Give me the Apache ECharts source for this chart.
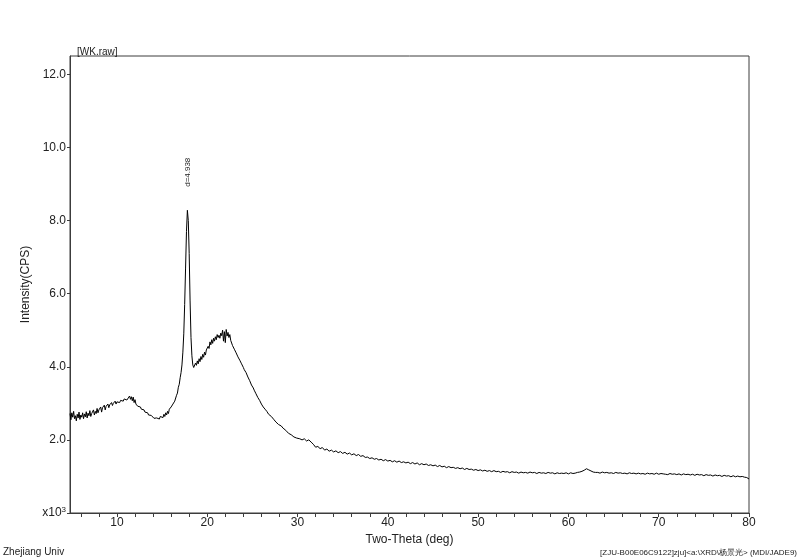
<!DOCTYPE html>
<html>
<head>
<meta charset="utf-8">
<title>WK.raw</title>
<script src="https://cdn.jsdelivr.net/npm/echarts@6/dist/echarts.min.js"></script>
<style>
  html, body { margin: 0; padding: 0; background: #fff; }
  #chart { width: 800px; height: 560px; }
</style>
</head>
<body>
<div id="chart"></div>
<script>
// intensity in x10^3 CPS; angles in deg 2-theta
// low-angle part: 4.8 .. 17.2, step 0.1
const lowStart = 4.8;
const lowStep = 0.1;
const lowCounts = [
  2.72, 2.55,
  2.74, 2.62, 2.78, 2.58, 2.66, 2.52, 2.70, 2.60, 2.76, 2.56,
  2.68, 2.62, 2.74, 2.58, 2.71, 2.63, 2.77, 2.60, 2.73, 2.66,
  2.80, 2.64, 2.72, 2.67, 2.82, 2.68, 2.78, 2.72, 2.86, 2.74,
  2.82, 2.78, 2.90, 2.76, 2.88, 2.83, 2.95, 2.82, 2.92, 2.87,
  2.98, 2.88, 2.96, 2.92, 3.02, 2.94, 3.00, 2.96, 3.06, 2.98,
  3.04, 3.01, 3.09, 3.02, 3.08, 3.05, 3.13, 3.06, 3.12, 3.08,
  3.16, 3.09, 3.14, 3.12, 3.20, 3.11, 3.18, 3.07, 3.17, 3.02,
  3.10, 2.98, 3.02, 2.92, 2.97, 2.88, 2.90, 2.84, 2.87, 2.79,
  2.82, 2.76, 2.79, 2.72, 2.74, 2.68, 2.72, 2.65, 2.67, 2.62,
  2.65, 2.59, 2.62, 2.56, 2.60, 2.55, 2.63, 2.57, 2.64, 2.59,
  2.69, 2.61, 2.70, 2.64, 2.74, 2.68, 2.78, 2.72, 2.84, 2.80,
  2.90, 2.86, 2.98, 2.95, 3.06, 3.08, 3.22, 3.28, 3.44, 3.52,
  3.70, 3.84, 4.05
];
// sharp reflection
const peakAngles = [17.3, 17.4, 17.5, 17.6, 17.7, 17.8, 17.85, 17.9, 18.0, 18.1, 18.2, 18.3, 18.4, 18.5];
const peakCounts = [4.40, 4.90, 5.70, 6.70, 7.70, 8.28, 8.32, 8.00, 7.10, 5.80, 4.80, 4.30, 4.05, 3.98];
// amorphous hump: 18.6 .. 30.0, step 0.1
const humpStart = 18.6;
const humpStep = 0.1;
const humpCounts = [
  4.00, 4.10, 4.04, 4.16,
  4.08, 4.22, 4.14, 4.28, 4.20, 4.34, 4.26, 4.40, 4.32, 4.46,
  4.42, 4.56, 4.50, 4.68, 4.60, 4.74, 4.64, 4.78, 4.70, 4.82,
  4.74, 4.88, 4.80, 4.86, 4.78, 4.92, 4.85, 5.00, 4.70, 4.96,
  4.66, 5.02, 4.84, 4.94, 4.80, 4.88, 4.72, 4.70, 4.58, 4.60,
  4.48, 4.46, 4.38, 4.36, 4.27, 4.26, 4.18, 4.16, 4.08, 4.04,
  3.98, 3.92, 3.88, 3.84, 3.80, 3.72, 3.68, 3.62, 3.58, 3.50,
  3.46, 3.42, 3.36, 3.34, 3.26, 3.24, 3.16, 3.14, 3.08, 3.06,
  2.98, 2.97, 2.90, 2.89, 2.84, 2.83, 2.78, 2.76, 2.70, 2.70,
  2.66, 2.64, 2.60, 2.61, 2.55, 2.52, 2.49, 2.49, 2.44, 2.42,
  2.40, 2.38, 2.38, 2.33, 2.32, 2.30, 2.27, 2.26, 2.22, 2.22,
  2.18, 2.16, 2.14, 2.14, 2.11, 2.10, 2.08, 2.08, 2.06, 2.05,
  2.04
];
// high-angle tail: 30.25 .. 80.0, step 0.25
const tailStart = 30.25;
const tailStep = 0.25;
const tailCounts = [
  2.03, 2.00, 2.03, 1.97,  2.00, 1.94, 1.88, 1.80,  1.82, 1.76, 1.79, 1.72,
  1.75, 1.69, 1.72, 1.67,  1.70, 1.65, 1.68, 1.63,  1.66, 1.61, 1.64, 1.59,
  1.62, 1.57, 1.60, 1.55,  1.57, 1.52, 1.53, 1.49,  1.51, 1.47, 1.49, 1.45,
  1.47, 1.43, 1.46, 1.42,  1.44, 1.40, 1.43, 1.39,  1.42, 1.38, 1.40, 1.37,
  1.39, 1.35, 1.38, 1.34,  1.37, 1.32, 1.35, 1.32,  1.34, 1.30, 1.32, 1.29,
  1.31, 1.27, 1.30, 1.26,  1.28, 1.24, 1.27, 1.24,  1.25, 1.22, 1.24, 1.21,
  1.23, 1.19, 1.22, 1.19,  1.20, 1.17, 1.19, 1.16,  1.18, 1.15, 1.17, 1.14,
  1.16, 1.13, 1.16, 1.13,  1.14, 1.11, 1.14, 1.12,  1.13, 1.10, 1.13, 1.11,
  1.12, 1.09, 1.12, 1.10,  1.11, 1.09, 1.12, 1.10,  1.11, 1.08, 1.11, 1.09,
  1.10, 1.08, 1.11, 1.09,  1.10, 1.07, 1.10, 1.08,  1.09, 1.08, 1.10, 1.07,
  1.10, 1.08, 1.09, 1.11,  1.12, 1.14, 1.17, 1.21,  1.18, 1.15, 1.12, 1.11,
  1.11, 1.09, 1.12, 1.10,  1.11, 1.09, 1.10, 1.08,  1.11, 1.09, 1.10, 1.08,
  1.09, 1.07, 1.10, 1.08,  1.09, 1.07, 1.09, 1.07,  1.08, 1.06, 1.09, 1.07,
  1.08, 1.06, 1.09, 1.06,  1.08, 1.07, 1.06, 1.05,  1.08, 1.06, 1.07, 1.05,
  1.07, 1.04, 1.07, 1.05,  1.06, 1.04, 1.06, 1.03,  1.06, 1.04, 1.05, 1.02,
  1.05, 1.03, 1.04, 1.01,  1.04, 1.02, 1.03, 1.00,  1.03, 1.01, 1.02, 0.99,
  1.02, 0.99, 1.01, 0.99,  1.00, 0.98, 0.97, 0.93
];

const xTickValues = [6, 8, 10, 12, 14, 16, 18, 20, 22, 24, 26, 28, 30, 32, 34, 36, 38, 40,
  42, 44, 46, 48, 50, 52, 54, 56, 58, 60, 62, 64, 66, 68, 70, 72, 74, 76, 78, 80];
const xLabelValues = [10, 20, 30, 40, 50, 60, 70, 80];

const peakAngle = 17.85;
const peakIntensity = 8.32;
const peakText = 'd=4.938';

const fileTitle = '[WK.raw]';
const footerLeft = 'Zhejiang Univ';
const footerRight = '[ZJU-B00E06C9122]zju]<a:\\XRD\\杨景光> (MDI/JADE9)';

const font = '"Liberation Sans", Arial, sans-serif';
const ink = '#222';
const frame = '#3c3c3c';

function stepScan(start, step, counts) {
  return counts.map((c, i) => [+(start + i * step).toFixed(3), c]);
}

const scan = []
  .concat(stepScan(lowStart, lowStep, lowCounts))
  .concat(peakAngles.map((t, i) => [t, peakCounts[i]]))
  .concat(stepScan(humpStart, humpStep, humpCounts))
  .concat(stepScan(tailStart, tailStep, tailCounts));

const chart = echarts.init(document.getElementById('chart'));

chart.setOption({
  backgroundColor: '#fff',
  animation: false,
  textStyle: { fontFamily: font },
  title: {
    text: fileTitle,
    left: 72,
    top: 42,
    textStyle: { fontSize: 10, fontWeight: 'normal', color: ink, fontFamily: font }
  },
  grid: {
    left: 70,
    right: 51,
    top: 56,
    bottom: 47,
    containLabel: false,
    outerBoundsMode: 'none',
    show: true,
    borderColor: frame,
    borderWidth: 1,
    backgroundColor: 'transparent'
  },
  xAxis: {
    type: 'value',
    min: 4.8,
    max: 80,
    name: 'Two-Theta (deg)',
    nameLocation: 'middle',
    nameGap: 21,
    nameTextStyle: { fontSize: 12, color: ink, fontFamily: font },
    axisLine: { show: true, onZero: false, lineStyle: { color: frame, width: 1 } },
    axisTick: {
      show: true,
      length: 4,
      customValues: xTickValues,
      lineStyle: { color: frame }
    },
    axisLabel: {
      customValues: xLabelValues,
      margin: 4,
      fontSize: 12,
      color: ink,
      fontFamily: font
    },
    splitLine: { show: false }
  },
  yAxis: {
    type: 'value',
    min: 0,
    max: 12.5,
    interval: 2,
    name: 'Intensity(CPS)',
    nameLocation: 'middle',
    nameGap: 31,
    nameTextStyle: { fontSize: 12, color: ink, fontFamily: font },
    axisLine: { show: true, lineStyle: { color: frame, width: 1 } },
    axisTick: { show: true, length: 3, lineStyle: { color: frame } },
    axisLabel: {
      margin: 4,
      fontSize: 12,
      color: ink,
      fontFamily: font,
      showMaxLabel: false,
      formatter: (v) => v === 0 ? '{a|x10}{s|3}' : v.toFixed(1),
      rich: {
        a: { fontSize: 12, color: ink, fontFamily: font },
        s: { fontSize: 8, color: ink, fontFamily: font, verticalAlign: 'top', padding: [0, 0, 6, 0] }
      }
    },
    splitLine: { show: false }
  },
  series: [{
    type: 'line',
    data: scan,
    showSymbol: false,
    symbol: 'none',
    lineStyle: { color: '#000', width: 1 },
    silent: true
  }],
  graphic: [
    {
      type: 'text',
      left: 3,
      top: 547,
      style: { text: footerLeft, fontSize: 10, fill: ink, fontFamily: font }
    },
    {
      type: 'text',
      right: 3,
      top: 549,
      style: { text: footerRight, fontSize: 8, fill: ink, fontFamily: font }
    }
  ]
});

// peak annotation, placed from the chart's own scale
const peakPx = chart.convertToPixel({ gridIndex: 0 }, [peakAngle, peakIntensity]);
chart.setOption({
  graphic: [
    {},
    {},
    {
      type: 'text',
      x: peakPx[0],
      y: peakPx[1] - 22,
      rotation: Math.PI / 2,
      style: {
        text: peakText,
        fontSize: 8,
        fill: ink,
        fontFamily: font,
        align: 'left',
        verticalAlign: 'middle'
      }
    }
  ]
});
</script>
</body>
</html>
